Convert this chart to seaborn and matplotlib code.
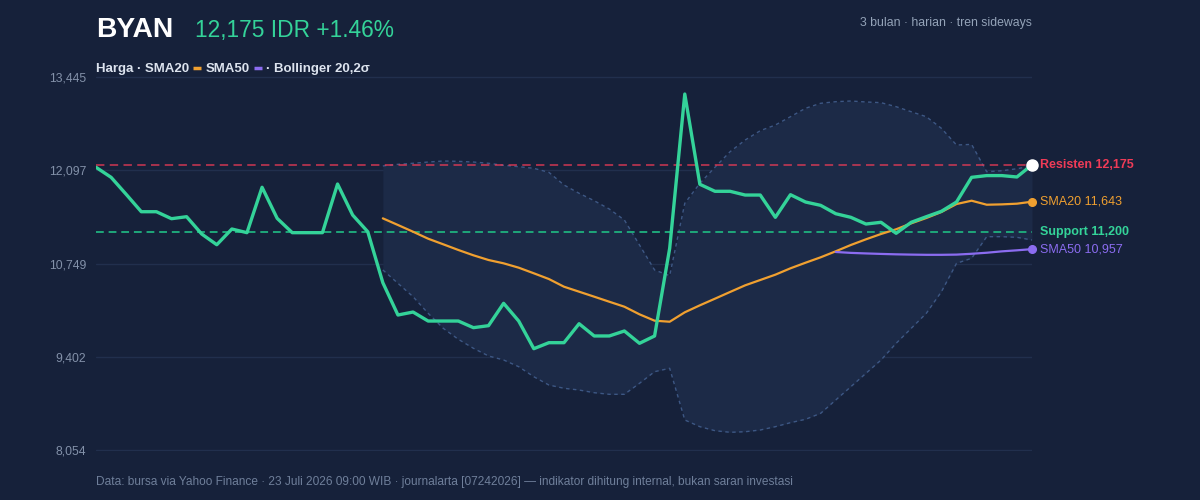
import numpy as np
import seaborn as sns
import matplotlib.pyplot as plt
from matplotlib.lines import Line2D

# ---- data ----
ticker = "BYAN"
last_price = 12175
change_pct = 1.46
resistance = 12175
support = 11200

price = [12140, 11995, 11749, 11498, 11498, 11397, 11426, 11176, 11021, 11248,
         11195, 11851, 11402, 11195, 11195, 11195, 11898, 11450, 11209, 10472,
         10005, 10048, 9918, 9918, 9918, 9822, 9851, 10174, 9918, 9518,
         9605, 9605, 9879, 9702, 9702, 9774, 9596, 9702, 10969, 13199,
         11894, 11793, 11793, 11739, 11739, 11417, 11744, 11638, 11590, 11469,
         11417, 11320, 11345, 11186, 11345, 11426, 11504, 11638, 11995, 12020,
         12020, 12000, 12175]

sma20 = [11402, 11306, 11209, 11108, 11027, 10945, 10868, 10800, 10752, 10689,
         10608, 10525, 10414, 10342, 10270, 10197, 10125, 10015, 9923, 9908,
         10044, 10145, 10241, 10338, 10434, 10511, 10588, 10680, 10761, 10839,
         10926, 11017, 11099, 11176, 11244, 11330, 11407, 11494, 11609, 11657,
         11599, 11604, 11614, 11643]

sma50 = [10916, 10903, 10895, 10888, 10882, 10878, 10875, 10875, 10878, 10890,
         10905, 10925, 10940, 10957]

bb_upper = [12159, 12183, 12198, 12216, 12231, 12226, 12216, 12198, 12169, 12149,
            12125, 12067, 11884, 11764, 11657, 11537, 11378, 11017, 10656, 10573,
            11619, 11909, 12140, 12365, 12534, 12669, 12751, 12871, 12993, 13065,
            13088, 13098, 13084, 13074, 13016, 12943, 12871, 12703, 12462, 12471,
            12076, 12090, 12119, 12159]

bb_lower = [10656, 10463, 10270, 10030, 9813, 9654, 9524, 9413, 9355, 9258,
            9113, 8993, 8946, 8921, 8882, 8859, 8859, 9018, 9186, 9235,
            8488, 8391, 8333, 8310, 8318, 8343, 8391, 8449, 8498, 8584,
            8777, 8969, 9162, 9355, 9596, 9813, 10030, 10342, 10752, 10825,
            11137, 11137, 11128, 11089]

y_ticks = [8054, 9402, 10749, 12097, 13445]

days = np.arange(len(price))
d20 = days[len(price) - len(sma20):]
d50 = days[len(price) - len(sma50):]

# ---- colours ----
BG = '#16213a'
BAND = '#1c2a47'
GRID = '#212f4d'
GREEN = '#34d399'
ORANGE = '#f0a030'
PURPLE = '#8b6cf0'
RED = '#ef3b57'
SUP = '#1fa77a'
EDGE = '#3d5784'
TICK = '#8391a9'
LEG = '#dce3ee'

sns.set_theme(style='dark')
plt.rcParams['font.family'] = ['Liberation Sans', 'DejaVu Sans']

W, H = 1200, 500
fig = plt.figure(figsize=(12, 5), dpi=100, facecolor=BG)
# one extra pixel above and below so the edge gridlines are not clipped
ax = fig.add_axes([96 / W, 1 - 451 / H, 936 / W, 375 / H])
ax.set_facecolor(BG)
pad_y = (y_ticks[-1] - y_ticks[0]) / 373

# bollinger band
ax.fill_between(d20, bb_lower, bb_upper, color=BAND, lw=0, zorder=1)
sns.lineplot(x=d20, y=bb_upper, ax=ax, color=EDGE, lw=1, dashes=False,
             linestyle=(0, (2.5, 2.5)), zorder=2)
sns.lineplot(x=d20, y=bb_lower, ax=ax, color=EDGE, lw=1, dashes=False,
             linestyle=(0, (2.5, 2.5)), zorder=2)

# support / resistance
ax.axhline(resistance, color=RED, lw=1.1, ls=(0, (5.5, 3.5)), alpha=0.85, zorder=3)
ax.axhline(support, color=SUP, lw=1.4, ls=(0, (4, 2.5)), zorder=3)

# moving averages
sns.lineplot(x=d20, y=sma20, ax=ax, color=ORANGE, lw=1.6, zorder=4)
sns.lineplot(x=d50, y=sma50, ax=ax, color=PURPLE, lw=1.6, zorder=4)

# price
sns.lineplot(x=days, y=price, ax=ax, color=GREEN, lw=2.4, zorder=5)

# end markers
ax.plot(days[-1], price[-1], 'o', color='white', ms=8, zorder=6, clip_on=False)
ax.plot(d20[-1], sma20[-1], 'o', color=ORANGE, ms=5.5, zorder=6, clip_on=False)
ax.plot(d50[-1], sma50[-1], 'o', color=PURPLE, ms=5.5, zorder=6, clip_on=False)

# right-side labels
ann = dict(xycoords='data', textcoords='offset pixels', va='center', ha='left',
           fontsize=9, annotation_clip=False)
ax.annotate(f"Resisten {resistance:,}", (days[-1], resistance), (8, 0),
            color=RED, fontweight='bold', **ann)
ax.annotate(f"SMA20 {sma20[-1]:,}", (days[-1], sma20[-1]), (8, 0),
            color=ORANGE, **ann)
ax.annotate(f"Support {support:,}", (days[-1], support), (8, 0),
            color=GREEN, fontweight='bold', **ann)
ax.annotate(f"SMA50 {sma50[-1]:,}", (days[-1], sma50[-1]), (8, 0),
            color=PURPLE, **ann)

# axes styling
ax.set_xlim(0, len(price) - 1)
ax.set_ylim(y_ticks[0] - pad_y, y_ticks[-1] + pad_y)
ax.set_xticks([])
ax.set_yticks(y_ticks)
ax.set_yticklabels([f"{v:,}" for v in y_ticks])
ax.tick_params(axis='y', colors=TICK, labelsize=8.7, length=0, pad=7)
ax.grid(False)
ax.yaxis.grid(True, color=GRID, lw=1)
ax.set_axisbelow(True)
for s in ax.spines.values():
    s.set_visible(False)
ax.set_xlabel('')
ax.set_ylabel('')

# header
fig.text(96 / W, 1 - 37 / H, ticker, color='white', fontsize=20.3,
         fontweight='bold', va='baseline')
fig.text(195 / W, 1 - 37 / H, f"{last_price:,} IDR +{change_pct:.2f}%",
         color=GREEN, fontsize=16.4, va='baseline')
fig.text(1032 / W, 1 - 26 / H, "3 bulan · harian · tren sideways",
         color='#94a3b8', fontsize=8.8, ha='right', va='baseline')

# legend row
fig.canvas.draw()
r = fig.canvas.get_renderer()


def piece(x, s):
    t = fig.text(x / W, 1 - 71.7 / H, s, color=LEG, fontsize=9.5,
                 fontweight='bold', va='baseline')
    return t.get_window_extent(renderer=r).x1


def dash(x, c):
    fig.add_artist(Line2D([x / W, (x + 8) / W], [1 - 67.5 / H] * 2,
                          transform=fig.transFigure, color=c, lw=2.5,
                          solid_capstyle='butt'))
    return x + 8


x = piece(96, "Harga · SMA20")
x = dash(x + 4, ORANGE)
x = piece(x + 5, "SMA50")
x = dash(x + 4, PURPLE)
piece(x + 4, "· Bollinger 20,2σ")

# footer
fig.text(96 / W, 1 - 482 / H,
         "Data: bursa via Yahoo Finance · 23 Juli 2026 09:00 WIB · journalarta [07242026]"
         " — indikator dihitung internal, bukan saran investasi",
         color='#6f7f9a', fontsize=8.6, va='center')

fig.savefig('out.png', dpi=100, facecolor=BG)
